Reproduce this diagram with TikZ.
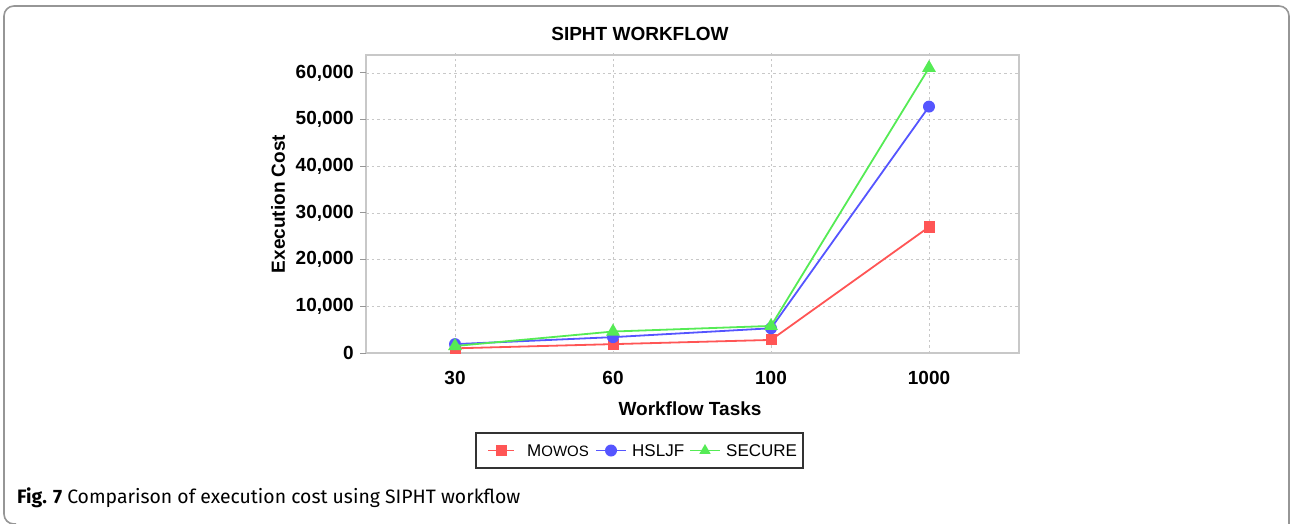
\documentclass[tikz,border=0pt]{standalone}
\usepackage{fontspec}
\setmainfont{Liberation Sans}
\newfontfamily\capfont{Fira Sans}
\usepackage{xcolor}
\usetikzlibrary{positioning,shapes.geometric}
\definecolor{mowosred}{RGB}{255,85,85}
\definecolor{hsljfblue}{RGB}{85,85,255}
\definecolor{securegreen}{RGB}{85,235,85}
\definecolor{gridgray}{RGB}{200,200,200}
\definecolor{framegray}{RGB}{150,150,150}

\begin{document}
\begin{tikzpicture}[x=1pt,y=-1pt,
  ticklbl/.style={font=\fontsize{19}{19}\selectfont\bfseries,inner sep=0pt},
  axislbl/.style={font=\fontsize{19}{19}\selectfont\bfseries,inner sep=0pt},
  legtext/.style={font=\fontsize{17}{17}\selectfont,inner sep=0pt,anchor=west},
  gridline/.style={gridgray,line width=0.9pt,dash pattern=on 2.5pt off 3pt},
  seriesline/.style={line width=1.8pt},
  sqmark/.style={fill=mowosred,minimum size=11pt,inner sep=0pt},
  dotmark/.style={circle,fill=hsljfblue,minimum size=12pt,inner sep=0pt},
  trimark/.style={regular polygon,regular polygon sides=3,fill=securegreen,minimum size=16pt,inner sep=0pt}]
\useasboundingbox (0,0) rectangle (1290,524);
% outer frame
\draw[framegray,line width=1.6pt,rounded corners=10pt] (16,524) -- (4,524) -- (4,6) -- (1289,6) -- (1289,530);
% title
\node[ticklbl] (title) at (640,34) {SIPHT WORKFLOW};
% plot area
\draw[gridgray,line width=1.2pt] (366,55) rectangle (1019,353);
\begin{scope}[shift={(0,353)},y={(0,4.6667pt)}]
  \foreach \v in {10,20,...,60}
    \draw[gridline] (366,\v) -- (1019,\v);
  \foreach \v/\t in {0/0,10/{10,000},20/{20,000},30/{30,000},40/{40,000},50/{50,000},60/{60,000}} {
    \draw[framegray,line width=1pt] (360,\v) -- (366,\v);
    \node[ticklbl,anchor=east] (ytick\v) at (354,\v) {\t};
  }
  \foreach \c [count=\i] in {30,60,100,1000} {
    \pgfmathsetmacro\cx{297+158*\i}
    \draw[gridline] (\cx,0) -- (\cx,64.3);
    \node[ticklbl] (xtick\i) at (\cx,-5.4) {\c};
  }
  % series points
  \foreach \v [count=\i] in {1.0,1.9,2.8,27.0}
    \coordinate (mowos\i) at ({297+158*\i},\v);
  \foreach \v [count=\i] in {1.9,3.4,5.3,52.8}
    \coordinate (hsljf\i) at ({297+158*\i},\v);
  \foreach \v [count=\i] in {1.5,4.6,5.8,61.1}
    \coordinate (secure\i) at ({297+158*\i},\v);
\end{scope}
% series
\draw[seriesline,mowosred] (mowos1) -- (mowos2) -- (mowos3) -- (mowos4);
\foreach \i in {1,...,4} \node[sqmark] at (mowos\i) {};
\draw[seriesline,hsljfblue] (hsljf1) -- (hsljf2) -- (hsljf3) -- (hsljf4);
\foreach \i in {1,...,4} \node[dotmark] at (hsljf\i) {};
\draw[seriesline,securegreen] (secure1) -- (secure2) -- (secure3) -- (secure4);
\foreach \i in {1,...,4} \node[trimark] at (secure\i) {};
% axis labels
\node[axislbl,rotate=90] (ylbl) at (278,204) {Execution Cost};
\node[axislbl] (xlbl) at (690,409) {Workflow Tasks};
% legend
\node[draw=black!80,line width=1.2pt,minimum width=327pt,minimum height=35pt,inner sep=0pt] (legend) at (639.5,450.5) {};
\coordinate (legA) at (488,450.5);
\coordinate (legB) at (596,450.5);
\coordinate (legC) at (690,450.5);
\draw[seriesline,mowosred] (legA) -- ++(26,0) node[pos=0.5,sqmark] {};
\node[legtext] (legmowos) at (527,451) {M{\fontsize{15}{15}\selectfont OWOS}};
\draw[seriesline,hsljfblue] (legB) -- ++(30,0) node[pos=0.5,dotmark] {};
\node[legtext] (leghsljf) at (632,451) {HSLJF};
\draw[seriesline,securegreen] (legC) -- ++(30,0) node[pos=0.5,trimark,minimum size=13pt] {};
\node[legtext] (legsecure) at (726,451) {SECURE};
% caption
\node[anchor=west,inner sep=0pt,font=\capfont\fontsize{19.4}{19.4}\selectfont] (caption) at (17,498) {\textbf{Fig. 7} Comparison of execution cost using SIPHT workflow};
\end{tikzpicture}
\end{document}
